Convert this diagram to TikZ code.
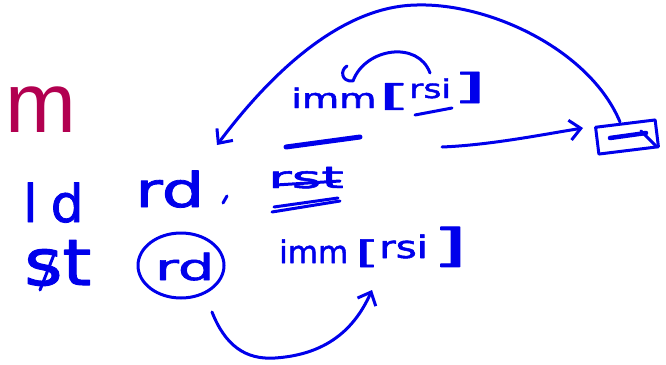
\documentclass[tikz,border=0pt]{standalone}
\usepackage{fontspec}
\setmainfont{DejaVu Sans}[FakeBold=1.6]
\newfontfamily\slidefont{Liberation Sans}
\usetikzlibrary{arrows.meta,shapes.geometric}
\definecolor{pen}{RGB}{0,0,235}
\definecolor{slide}{RGB}{178,0,80}
\begin{document}
\begin{tikzpicture}[x=1pt,y=-1pt,line cap=round,line join=round,
  ink/.style={draw=pen,line width=3pt},
  hw/.style={text=pen,inner sep=0pt,anchor=base west},
  arr/.style={ink,-{Straight Barb[length=11pt,width=20pt]}}]
\fill[white] (0,0) rectangle (666,364);
\useasboundingbox (0,0) rectangle (666,364);
% slide text
\node[hw,text=slide,font=\slidefont\fontsize{85}{90}\selectfont] (m) at (5,132) {m};
% row 1
\node[hw,font=\fontsize{52}{60}\selectfont] (ld) at (23,222) {l\hspace{13pt}d};
\node[hw,font=\fontsize{48}{56}\selectfont] (rd1) at (135,207) {\scalebox{1.4}[1]{rd}};
\node[hw,font=\fontsize{30}{36}\selectfont] (rst) at (268,188) {\scalebox{1.9}[1]{rst}};
% row 2
\node[hw,font=\fontsize{64}{70}\selectfont] (st) at (24,285) {\scalebox{1.15}[1]{st}};
\node[ellipse,ink,minimum width=86pt,minimum height=65pt] (circ) at (181,265.5) {};
\node[hw,font=\fontsize{36}{40}\selectfont] (rd2) at (155,280) {\scalebox{1.6}[1]{rd}};
\node[hw,font=\fontsize{31}{36}\selectfont] (imm2) at (279,263) {imm};
\node[hw,font=\fontsize{31}{36}\selectfont] (lb2) at (355,263) {\scalebox{2}[1]{[}};
\node[hw,font=\fontsize{31}{36}\selectfont] (rsi2) at (379,258) {\scalebox{1.3}[1]{rsi}};
\node[hw,font=\fontsize{45}{50}\selectfont] (rb2) at (432,261) {\scalebox{2}[1]{]}};
% top expression
\node[hw,font=\fontsize{27}{32}\selectfont] (imm1) at (291,108) {\scalebox{1.42}[1]{imm}};
\node[hw,font=\fontsize{30}{34}\selectfont] (lb1) at (378,106) {\scalebox{2.8}[1]{[}};
\node[hw,font=\fontsize{26}{30}\selectfont] (rsi1) at (409,98) {\scalebox{1.33}[1]{rsi}};
\node[hw,font=\fontsize{35}{40}\selectfont] (rb1) at (452,98.5) {\scalebox{2.5}[1]{]}};
% box
\node[draw=pen,line width=3pt,minimum width=60pt,minimum height=27pt,rotate=7,inner sep=0pt] (box) at (627,137) {};
\draw[pen,line width=4.5pt] (610,138) -- (646,133);
\draw[ink] (641,131) -- (657,147);
% marks
\draw[ink] (223,203) -- (227,196);
\draw[ink] (276,185) -- (340,181);
\draw[ink] (272,212) -- (340,201);
\draw[ink] (274,207) -- (338,198);
\draw[ink] (40,290) -- (55,252);
\draw[pen,line width=5pt] (286,147) -- (360,137);
\draw[ink] (415,115) -- (452,108);
\draw[ink] (347,66) .. controls (340,70) and (341,82) .. (353,81) .. controls (365,48) and (418,40) .. (430,73);
% connectors
\coordinate (bs) at (212,312);
\coordinate (bt) at (372,290);
\draw[arr] (bs) .. controls (225,345) and (245,360) .. (275,358) .. controls (320,355) and (352,335) .. (bt);
\coordinate (as) at (620,122);
\coordinate (at) at (217,145);
\draw[arr] (as) .. controls (590,50) and (490,3) .. (417,5) .. controls (335,6) and (262,85) .. (at);
\coordinate (rs) at (442,147);
\coordinate (rt) at (583,128);
\draw[arr] (rs) .. controls (490,145) and (540,135) .. (rt);
\end{tikzpicture}
\end{document}
